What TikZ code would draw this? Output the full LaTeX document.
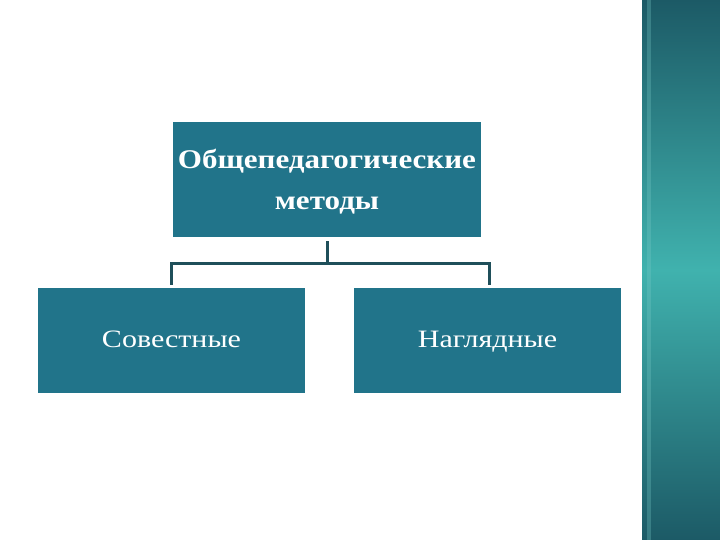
\documentclass[tikz,border=0pt]{standalone}
\usepackage{fontspec}
\setmainfont{Liberation Serif}
\usepackage{tikz}
\usetikzlibrary{positioning}

\definecolor{boxteal}{HTML}{21748A}
\definecolor{linedark}{HTML}{1F4F5A}
\definecolor{stripdark}{HTML}{1C5A66}
\definecolor{striplight}{HTML}{40B2AE}

\tikzset{
  methodbox/.style={fill=boxteal, text=white, inner sep=0pt, align=center},
  conn/.style={draw=linedark, line width=3pt}
}

\begin{document}
\begin{tikzpicture}[x=1pt,y=-1pt]
\useasboundingbox (0,0) rectangle (720,540);
\fill[white] (0,0) rectangle (720,540);
% side strip
\shade[top color=stripdark, bottom color=stripdark, middle color=striplight] (642,0) rectangle (720,540);
\fill[striplight!70!white, opacity=0.3] (647,0) rectangle (651,540);

\draw (327,179.5) node[methodbox, minimum width=308pt, minimum height=115pt, text height=66pt, text depth=6pt, font=\fontsize{27}{41}\selectfont\bfseries] (obshch) {\scalebox{1.15}[1]{Общепедагогические}\\\scalebox{1.15}[1]{методы}};
  \draw (171.5,340.5) node[methodbox, minimum width=267pt, minimum height=105pt, text height=18pt, text depth=5pt, font=\fontsize{25}{28}\selectfont] (sovest) {\scalebox{1.2}[1]{Совестные}};
  \draw (487.5,340.5) node[methodbox, minimum width=267pt, minimum height=105pt, text height=18pt, text depth=5pt, font=\fontsize{25}{28}\selectfont] (nagl) {\scalebox{1.2}[1]{Наглядные}};

  \coordinate (split) at (327,263);
     \path[conn] ([yshift=-4pt]obshch.south) -- (split);
     \path[conn] (split) -| ([yshift=3pt]sovest.north);
     \path[conn] (split) -| ([xshift=1.5pt,yshift=3pt]nagl.north);

\end{tikzpicture}
\end{document}
